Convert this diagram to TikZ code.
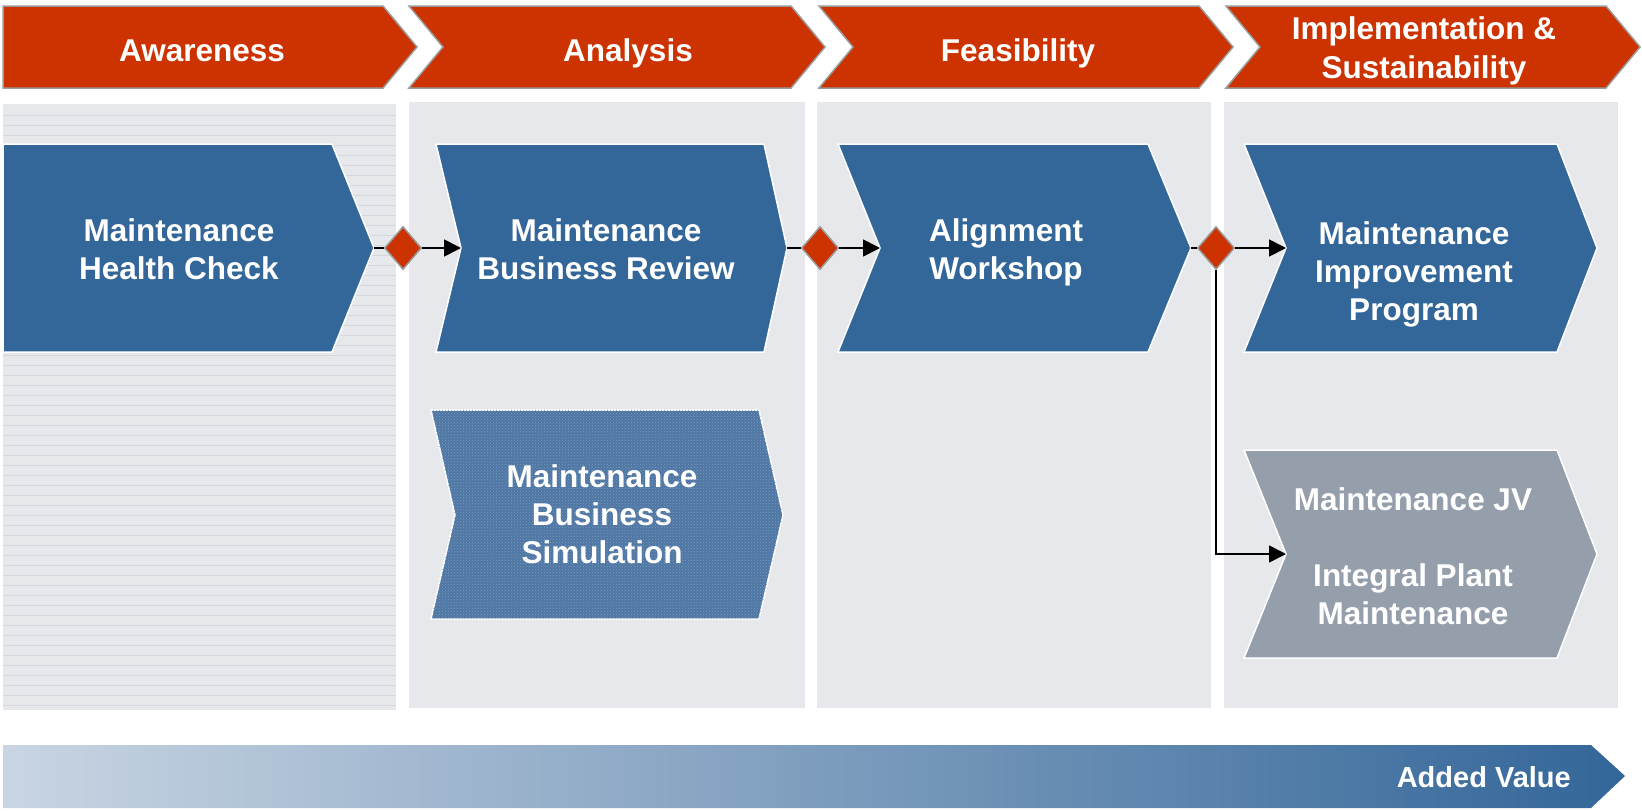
\documentclass[tikz,border=0pt]{standalone}
\usepackage{fontspec}
\setmainfont{Liberation Sans}
\usetikzlibrary{arrows.meta,shapes.geometric,patterns}
\definecolor{hred}{HTML}{CC3300}
\definecolor{pblue}{HTML}{336699}
\definecolor{pgray}{HTML}{959FAC}
\definecolor{panelc}{HTML}{E7E8EC}
\definecolor{plinec}{HTML}{D6D7DC}
\definecolor{hborder}{HTML}{9A9A9A}
\definecolor{simc}{HTML}{4F77A3}
\definecolor{simdot}{HTML}{7C99BF}
\definecolor{gradl}{HTML}{C9D5E3}
\definecolor{gradm}{HTML}{9CACC3}
\begin{document}
\begin{tikzpicture}[x=1pt,y=-1pt,
  head/.style={fill=hred,draw=hborder,line width=1.5pt},
  panel/.style={fill=panelc},
  pline/.style={draw=plinec,line width=0.8pt},
  proc/.style={fill=pblue,draw=white,line width=1.5pt},
  simbox/.style={fill=simc,draw=white,line width=1.5pt},
  graybox/.style={fill=pgray,draw=white,line width=1.5pt},
  txt/.style={text=white,font=\bfseries\fontsize{31.5}{38}\selectfont,align=center,inner sep=0pt},
  htxt/.style={txt,font=\bfseries\fontsize{31.5}{38.5}\selectfont},
  dmd/.style={diamond,fill=hred,draw=hborder,line width=1.5pt,minimum width=37pt,minimum height=43pt,inner sep=0pt},
  conn/.style={draw=black,line width=1.8pt},
  arr/.style={conn,-{Triangle[length=17pt,width=17pt]}}]
\useasboundingbox (0,0) rectangle (1642,811);
% header chevrons
\path[head] (3,6) -- (383,6) -- (417,47) -- (383,88) -- (3,88) -- cycle;
\path[head] (409,6) -- (791,6) -- (825,47) -- (791,88) -- (409,88) -- (443,47) -- cycle;
\path[head] (819,6) -- (1199,6) -- (1233,47) -- (1199,88) -- (819,88) -- (853,47) -- cycle;
\path[head] (1226,6) -- (1606,6) -- (1640,47) -- (1606,88) -- (1226,88) -- (1260,47) -- cycle;
\node[txt,anchor=base] (h1) at (202,61) {Awareness};
\node[txt,anchor=base] (h2) at (628,61) {Analysis};
\node[txt,anchor=base] (h3) at (1018,61) {Feasibility};
\node[htxt] (h4) at (1424,51) {Implementation \&\\Sustainability};
% panels
\path[panel] (3,104) rectangle (396,710);
\foreach \yy in {115,125,...,705} \draw[pline] (3,\yy) -- (396,\yy);
\path[panel] (409,102) rectangle (805,708);
\path[panel] (817,102) rectangle (1211,708);
\path[panel] (1224,102) rectangle (1618,708);
% process boxes
\path[proc] (3,144) -- (332,144) -- (374,248) -- (332,352) -- (3,352) -- cycle;
\path[proc] (436,144) -- (764,144) -- (787,248) -- (764,352) -- (436,352) -- (461,248) -- cycle;
\path[proc] (838,144) -- (1148,144) -- (1191,248) -- (1148,352) -- (838,352) -- (880,248) -- cycle;
\path[proc] (1244,144) -- (1557,144) -- (1597,248) -- (1557,352) -- (1244,352) -- (1286,248) -- cycle;
\path[simbox] (431,410) -- (759,410) -- (783,515) -- (759,619) -- (431,619) -- (455,515) -- cycle;
\path[pattern=crosshatch dots,pattern color=simdot] (431,410) -- (759,410) -- (783,515) -- (759,619) -- (431,619) -- (455,515) -- cycle;
\path[graybox] (1244,450) -- (1557,450) -- (1597,554) -- (1557,658) -- (1244,658) -- (1286,554) -- cycle;
% texts
\node[txt] (t1) at (179,249.7) {Maintenance\\Health Check};
\node[txt] (t2) at (606,249.5) {Maintenance\\Business Review};
\node[txt] (t3) at (1006,252.8) {Alignment\\Workshop};
\node[txt] (t4) at (1414,274.5) {Maintenance\\Improvement\\Program};
\node[txt] (t5) at (602,514.2) {Maintenance\\Business\\Simulation};
\node[txt] (t6) at (1413,556) {Maintenance JV\\\mbox{}\\Integral Plant\\Maintenance};
% connection points
\coordinate (b1tip) at (374,248);
\coordinate (b2notch) at (461,248);
\coordinate (b2tip) at (787,248);
\coordinate (b3notch) at (880,248);
\coordinate (b3tip) at (1191,248);
\coordinate (b4notch) at (1286,248);
\coordinate (jvnotch) at (1286,554);
\node[dmd] (d1) at (403,248) {};
\node[dmd] (d2) at (820,248) {};
\node[dmd] (d3) at (1216,248) {};
\draw[conn] (b1tip) -- (d1.west);
\draw[arr] (d1.east) -- (b2notch);
\draw[conn] (b2tip) -- (d2.west);
\draw[arr] (d2.east) -- (b3notch);
\draw[conn] (b3tip) -- (d3.west);
\draw[arr] (d3.east) -- (b4notch);
\draw[arr] (d3.south) |- (jvnotch);
% added value arrow
\shade[left color=gradl,middle color=gradm,right color=pblue] (3,745) -- (1591,745) -- (1625,776) -- (1591,808) -- (3,808) -- cycle;
\node[txt,font=\bfseries\fontsize{29}{34}\selectfont,anchor=base east] (av) at (1571,787) {Added Value};
\end{tikzpicture}
\end{document}
